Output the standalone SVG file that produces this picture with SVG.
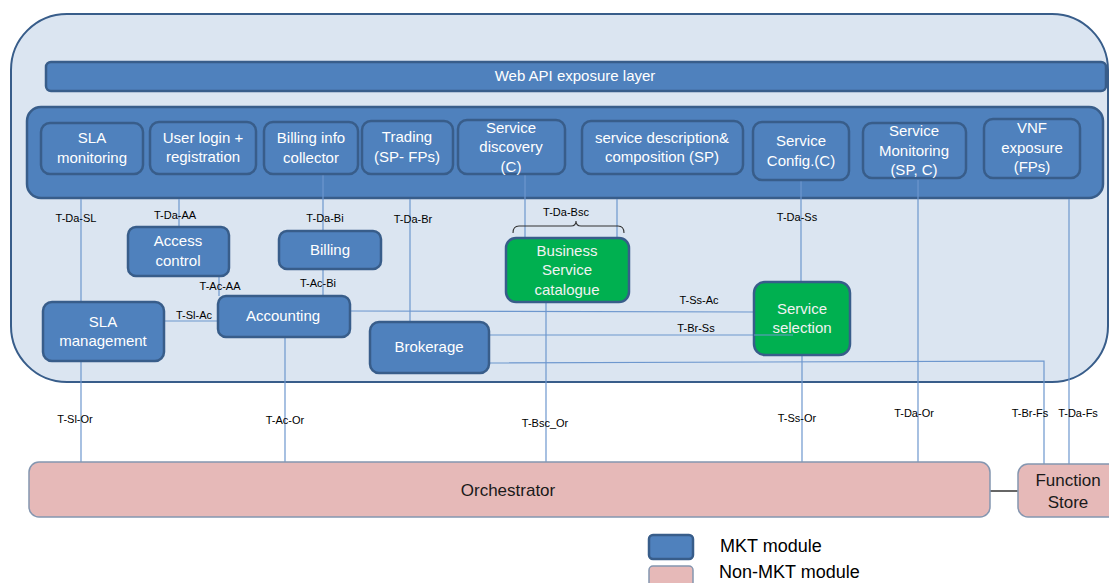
<svg xmlns="http://www.w3.org/2000/svg" width="1109" height="583" viewBox="0 0 1109 583">
<style>
.mod{fill:#4F81BD;stroke:#385D8A;stroke-width:2.5}
.grn{fill:#00B050;stroke:#385D8A;stroke-width:2.5}
.pink{fill:#E6B9B8;stroke:#8496B0;stroke-width:1.5}
.t{font-family:"Liberation Sans",Arial,sans-serif;font-size:15px;fill:#ffffff;text-anchor:middle}
.tg{font-family:"Liberation Sans",Arial,sans-serif;font-size:15px;fill:#F2F2F2;text-anchor:middle}
.lb{font-family:"Liberation Sans",Arial,sans-serif;font-size:11px;fill:#000000;text-anchor:middle}
.big{font-family:"Liberation Sans",Arial,sans-serif;font-size:17px;fill:#1a1a1a;text-anchor:middle}
.leg{font-family:"Liberation Sans",Arial,sans-serif;font-size:18px;fill:#000000}
.ln{fill:none;stroke:#6D97CE;stroke-width:1.2}
</style>
<rect width="1109" height="583" fill="#ffffff"/>
<g id="container">
<rect x="11" y="14" width="1097" height="368" rx="56" ry="56" fill="#DBE5F1" stroke="#385D8A" stroke-width="2"/>
</g>
<g id="web-api">
<rect x="46" y="62" width="1060" height="29" rx="5" class="mod" stroke-width="2"/>
<text x="575" y="81" class="t">Web API exposure layer</text>
</g>
<g id="inner-bar">
<rect x="27" y="107" width="1076" height="91" rx="14" class="mod" stroke-width="2"/>
</g>
<g id="connectors">
<line class="ln" x1="81" y1="199" x2="81" y2="302"/>
<line class="ln" x1="81" y1="361" x2="81" y2="462"/>
<line class="ln" x1="179" y1="199" x2="179" y2="227"/>
<line class="ln" x1="323" y1="174" x2="323" y2="231"/>
<line class="ln" x1="323" y1="269" x2="323" y2="296"/>
<line class="ln" x1="410" y1="199" x2="410" y2="322"/>
<line class="ln" x1="525" y1="174" x2="525" y2="238"/>
<line class="ln" x1="617" y1="199" x2="617" y2="238"/>
<line class="ln" x1="219" y1="276" x2="219" y2="296"/>
<line class="ln" x1="164" y1="321" x2="236" y2="321"/>
<line class="ln" x1="350" y1="311" x2="754" y2="312"/>
<line class="ln" x1="489" y1="335" x2="793" y2="335"/>
<polyline class="ln" points="489,363 1044,361 1044,464"/>
<line class="ln" x1="285" y1="337" x2="285" y2="462"/>
<line class="ln" x1="546" y1="302" x2="546" y2="462"/>
<line class="ln" x1="801" y1="180" x2="801" y2="282"/>
<line class="ln" x1="802" y1="355" x2="802" y2="462"/>
<line class="ln" x1="918" y1="180" x2="918" y2="462"/>
<line class="ln" x1="1069" y1="199" x2="1069" y2="464"/>
<line x1="990" y1="491" x2="1018" y2="491" stroke="#000000" stroke-width="1.2"/>
<path d="M513,233 Q513,226 519,226 L571,226 Q576,226 576,221 Q576,226 581,226 L618,226 Q624,226 624,233" fill="none" stroke="#333333" stroke-width="1.1"/>
<text x="76" y="222" class="lb">T-Da-SL</text>
<text x="175" y="219" class="lb">T-Da-AA</text>
<text x="325" y="222" class="lb">T-Da-Bi</text>
<text x="413" y="223" class="lb">T-Da-Br</text>
<text x="566" y="216" class="lb">T-Da-Bsc</text>
<text x="220" y="290" class="lb">T-Ac-AA</text>
<text x="318" y="287" class="lb">T-Ac-Bi</text>
<text x="194" y="319" class="lb">T-Sl-Ac</text>
<text x="699" y="304" class="lb">T-Ss-Ac</text>
<text x="696" y="332" class="lb">T-Br-Ss</text>
<text x="797" y="221" class="lb">T-Da-Ss</text>
<text x="75" y="423" class="lb">T-Sl-Or</text>
<text x="285" y="424" class="lb">T-Ac-Or</text>
<text x="545" y="427" class="lb">T-Bsc_Or</text>
<text x="797" y="422" class="lb">T-Ss-Or</text>
<text x="914" y="417" class="lb">T-Da-Or</text>
<text x="1030" y="417" class="lb">T-Br-Fs</text>
<text x="1078" y="417" class="lb">T-Da-Fs</text>
</g>
<g id="sla-monitoring">
<rect x="41" y="123" width="102" height="51" rx="9" class="mod"/>
<text x="92" y="143" class="t">SLA</text>
<text x="92" y="163" class="t">monitoring</text>
</g>
<g id="user-login">
<rect x="150" y="122" width="106" height="52" rx="9" class="mod"/>
<text x="203" y="143" class="t">User login +</text>
<text x="203" y="162" class="t">registration</text>
</g>
<g id="billing-info">
<rect x="264" y="122" width="94" height="52" rx="9" class="mod"/>
<text x="311" y="143" class="t">Billing info</text>
<text x="311" y="163" class="t">collector</text>
</g>
<g id="trading">
<rect x="362" y="121" width="91" height="53" rx="9" class="mod"/>
<text x="407" y="142" class="t">Trading</text>
<text x="407" y="162" class="t">(SP- FPs)</text>
</g>
<g id="service-discovery">
<rect x="458" y="120" width="107" height="54" rx="9" class="mod"/>
<text x="511" y="133" class="t">Service</text>
<text x="511" y="152" class="t">discovery</text>
<text x="511" y="172" class="t">(C)</text>
</g>
<g id="service-description">
<rect x="582" y="121" width="161" height="53" rx="9" class="mod"/>
<text x="662" y="143" class="t">service description&amp;</text>
<text x="662" y="162" class="t">composition (SP)</text>
</g>
<g id="service-config">
<rect x="753" y="122" width="96" height="58" rx="9" class="mod"/>
<text x="801" y="146" class="t">Service</text>
<text x="801" y="166" class="t">Config.(C)</text>
</g>
<g id="service-monitoring">
<rect x="863" y="123" width="103" height="55" rx="9" class="mod"/>
<text x="914" y="136" class="t">Service</text>
<text x="914" y="156" class="t">Monitoring</text>
<text x="914" y="175" class="t">(SP, C)</text>
</g>
<g id="vnf-exposure">
<rect x="984" y="119" width="96" height="59" rx="9" class="mod"/>
<text x="1032" y="133" class="t">VNF</text>
<text x="1032" y="153" class="t">exposure</text>
<text x="1032" y="172" class="t">(FPs)</text>
</g>
<g id="access-control">
<rect x="128" y="227" width="101" height="49" rx="8" class="mod"/>
<text x="178" y="246" class="t">Access</text>
<text x="178" y="266" class="t">control</text>
</g>
<g id="billing">
<rect x="279" y="231" width="102" height="38" rx="8" class="mod"/>
<text x="330" y="255" class="t">Billing</text>
</g>
<g id="sla-management">
<rect x="43" y="302" width="121" height="59" rx="9" class="mod"/>
<text x="103" y="327" class="t">SLA</text>
<text x="103" y="346" class="t">management</text>
</g>
<g id="accounting">
<rect x="218" y="296" width="132" height="41" rx="8" class="mod"/>
<text x="283" y="321" class="t">Accounting</text>
</g>
<g id="brokerage">
<rect x="370" y="322" width="119" height="51" rx="9" class="mod"/>
<text x="429" y="352" class="t">Brokerage</text>
</g>
<g id="business-service-catalogue">
<rect x="506" y="238" width="123" height="64" rx="10" class="grn"/>
<text x="567" y="256" class="tg">Business</text>
<text x="567" y="275" class="tg">Service</text>
<text x="567" y="295" class="tg">catalogue</text>
</g>
<g id="service-selection">
<rect x="754" y="282" width="96" height="73" rx="11" class="grn"/>
<text x="802" y="314" class="tg">Service</text>
<text x="802" y="333" class="tg">selection</text>
</g>
<line x1="754" y1="335" x2="793" y2="335" stroke="#6D97CE" stroke-width="1.2"/>
<g id="orchestrator">
<rect x="29" y="462" width="961" height="55" rx="10" class="pink"/>
<text x="508" y="496" class="big">Orchestrator</text>
</g>
<g id="function-store">
<rect x="1018" y="464" width="110" height="53" rx="10" class="pink"/>
<text x="1068" y="486" class="big">Function</text>
<text x="1068" y="508" class="big">Store</text>
</g>
<g id="legend">
<rect x="649" y="535" width="44" height="24" rx="4" class="mod" stroke-width="2"/>
<text x="720" y="552" class="leg">MKT module</text>
<rect x="649" y="566" width="44" height="24" rx="4" class="pink" stroke-width="1.5"/>
<text x="719" y="578" class="leg">Non-MKT module</text>
</g>
</svg>
